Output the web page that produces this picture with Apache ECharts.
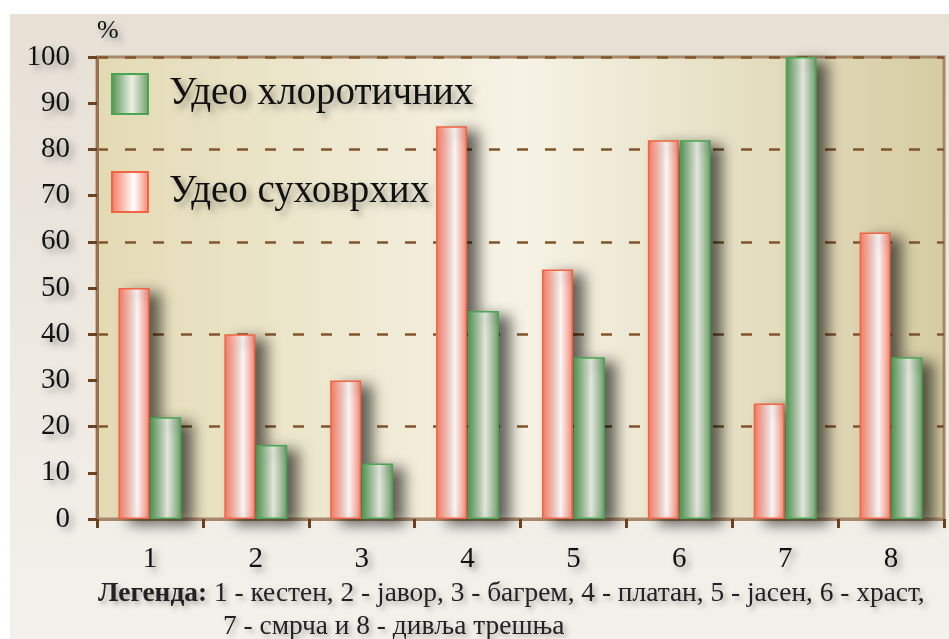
<!DOCTYPE html>
<html>
<head>
<meta charset="utf-8">
<script src="https://cdn.jsdelivr.net/npm/echarts@6/dist/echarts.min.js"></script>
<style>
  html, body { margin: 0; padding: 0; background: #fff; }
  #chart { width: 949px; height: 639px; }
</style>
</head>
<body>
<div id="chart"></div>
<script>
var categories = ["1", "2", "3", "4", "5", "6", "7", "8"];
var suhovrhih = [50, 40, 30, 85, 54, 82, 25, 62];
var hlorotichnih = [22, 16, 12, 45, 35, 82, 100, 35];
var seriesNames = ["Удео суховрхих", "Удео хлоротичних"];
var legendLine1 = ["Легенда:", " 1 - кестен, 2 - јавор, 3 - багрем, 4 - платан, 5 - јасен, 6 - храст,"];
var legendLine2 = "7 - смрча и 8 - дивља трешња";

var serif = '"Liberation Serif", "Times New Roman", serif';
var textShadow = {
  textShadowColor: "rgba(0,0,0,0.35)",
  textShadowBlur: 6,
  textShadowOffsetX: 4,
  textShadowOffsetY: 4
};

function hgrad(stops) {
  return new echarts.graphic.LinearGradient(0, 0, 1, 0, stops);
}

var barShadow = {
  shadowColor: "rgba(0,0,0,0.6)",
  shadowBlur: 14,
  shadowOffsetX: 11,
  shadowOffsetY: 5
};

var myChart = echarts.init(document.getElementById("chart"));

var option = {
  animation: false,
  graphic: {
    elements: [
      {
        type: "rect",
        z: -10,
        shape: { x: 10, y: 14, width: 939, height: 625 },
        style: {
          fill: new echarts.graphic.LinearGradient(0, 0, 0, 1, [
            { offset: 0, color: "#e6e0d5" },
            { offset: 1, color: "#f4f1ec" }
          ])
        }
      },
      {
        type: "text",
        left: 98,
        top: 580,
        style: {
          rich: {
            b: { fontFamily: serif, fontSize: 27.4, fontWeight: "bold", fill: "#222" },
            n: { fontFamily: serif, fontSize: 27.4, fill: "#222" }
          },
          text: "{b|" + legendLine1[0] + "}{n|" + legendLine1[1] + "}",
          textShadowColor: "rgba(0,0,0,0.3)",
          textShadowBlur: 5,
          textShadowOffsetX: 3,
          textShadowOffsetY: 3
        }
      },
      {
        type: "text",
        left: 223,
        top: 613,
        style: {
          text: legendLine2,
          font: "27.4px " + serif,
          fill: "#222",
          textShadowColor: "rgba(0,0,0,0.3)",
          textShadowBlur: 5,
          textShadowOffsetX: 3,
          textShadowOffsetY: 3
        }
      }
    ]
  },
  grid: {
    left: 97,
    right: 5,
    top: 57,
    bottom: 120,
    show: true,
    borderColor: "#a8886a",
    borderWidth: 3,
    backgroundColor: hgrad([
      { offset: 0, color: "#e3dab4" },
      { offset: 0.5, color: "#f6f3e5" },
      { offset: 1, color: "#d6cca2" }
    ])
  },
  legend: {
    data: [seriesNames[1], seriesNames[0]],
    orient: "vertical",
    left: 106,
    top: 68,
    itemWidth: 36,
    itemHeight: 40,
    itemGap: 56,
    icon: "rect",
    textStyle: Object.assign({ fontFamily: serif, fontSize: 39, color: "#111", padding: [0, 0, 0, 16] }, textShadow)
  },
  xAxis: {
    type: "category",
    data: categories,
    axisLine: { lineStyle: { color: "#a8886a", width: 3 } },
    axisTick: { show: true, length: 9, lineStyle: { color: "#6b4220", width: 3 } },
    axisLabel: Object.assign({ fontFamily: serif, fontSize: 29, color: "#111", margin: 26 }, textShadow),
    splitLine: { show: false }
  },
  yAxis: [
    {
      type: "value",
      min: 0,
      max: 100,
      interval: 10,
      name: "%",
      nameGap: 13,
      nameTextStyle: Object.assign({ fontFamily: serif, fontSize: 26, color: "#111", align: "left" }, textShadow),
      axisLine: { show: true, lineStyle: { color: "#9a7050", width: 3 } },
      axisTick: { show: true, length: 9, lineStyle: { color: "#6b4220", width: 3 } },
      axisLabel: Object.assign({ fontFamily: serif, fontSize: 29, color: "#111", margin: 27 }, textShadow),
      splitLine: { show: false }
    },
    {
      type: "value",
      min: 0,
      max: 100,
      interval: 20,
      position: "left",
      axisLine: { show: false },
      axisTick: { show: false },
      axisLabel: { show: false },
      splitLine: {
        show: true,
        lineStyle: { color: "#83552b", width: 2.5, type: [11, 17] }
      }
    }
  ],
  series: [
    {
      name: seriesNames[0],
      type: "bar",
      data: suhovrhih,
      barWidth: 31,
      barGap: "3%",
      itemStyle: Object.assign({
        color: hgrad([
          { offset: 0, color: "#f5765f" },
          { offset: 0.6, color: "#ffffff" },
          { offset: 1, color: "#f6826f" }
        ]),
        borderColor: "#f06442",
        borderWidth: 1.5
      }, barShadow)
    },
    {
      name: seriesNames[1],
      type: "bar",
      data: hlorotichnih,
      barWidth: 31,
      itemStyle: Object.assign({
        color: hgrad([
          { offset: 0, color: "#4f9150" },
          { offset: 0.55, color: "#eef0e6" },
          { offset: 1, color: "#6c9c68" }
        ]),
        borderColor: "#49a552",
        borderWidth: 1.5
      }, barShadow)
    }
  ]
};

myChart.setOption(option);
</script>
</body>
</html>
